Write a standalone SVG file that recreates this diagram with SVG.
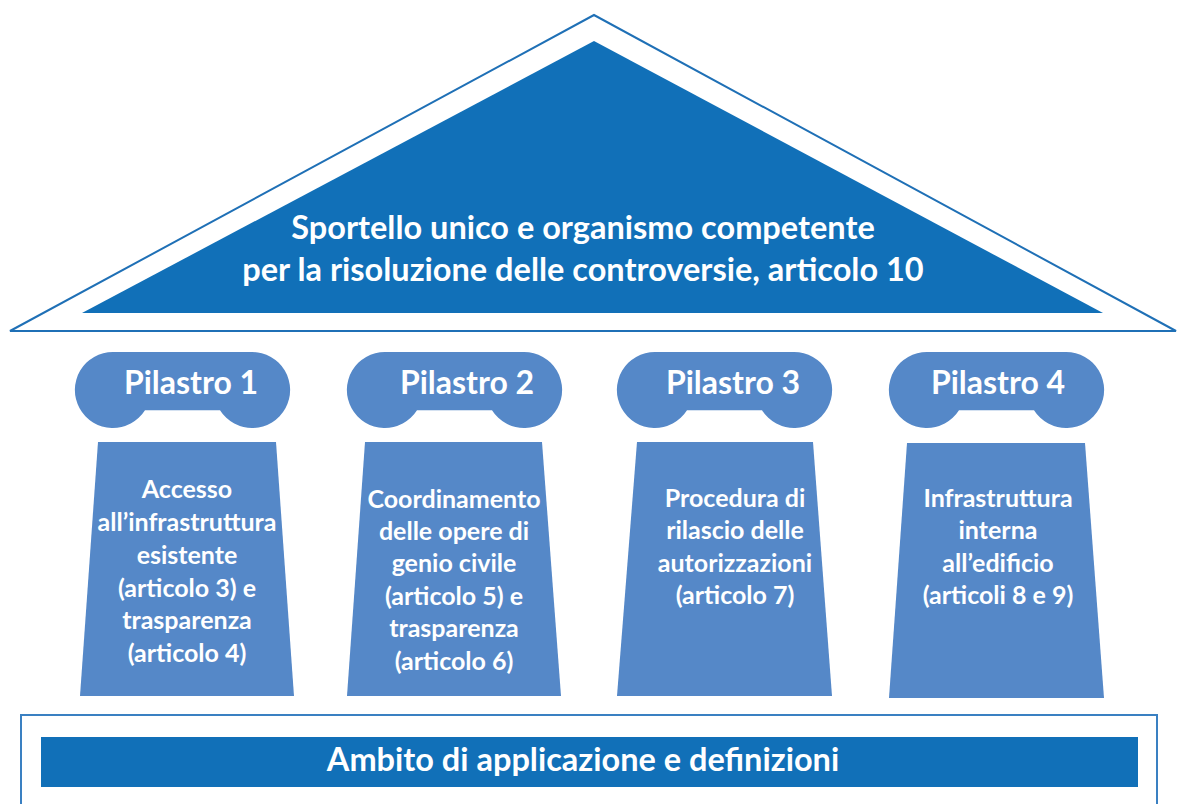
<svg xmlns="http://www.w3.org/2000/svg" width="1178" height="804" viewBox="0 0 1178 804">
<style>
.roof-out{fill:#ffffff;stroke:#1f70b6;stroke-width:2;stroke-linejoin:miter}
.dark{fill:#1170b8}
.pil{fill:#5588c8}
.base-out{fill:#ffffff;stroke:#3a80c2;stroke-width:2}
text{font-family:Lato,"Open Sans","Liberation Sans",sans-serif;font-weight:bold;fill:#ffffff;text-anchor:middle}
.big{font-size:32.5px}
.cap{font-size:32px}
.body{font-size:25px}
</style>
<defs>
<path id="capital" d="M38,0 L177,0 A38,38 0 1 1 145,58.3 L70,58.3 A38,38 0 1 1 38,0 Z"/>
</defs>
<rect width="1178" height="804" fill="#ffffff"/>
<g id="roof">
<polygon class="roof-out" points="594,15 10,331 1176,331"/>
<polygon class="dark" points="594,41 82,313 1103,313"/>
<text class="big" x="583" y="239">Sportello unico e organismo competente</text>
<text class="big" x="583" y="281">per la risoluzione delle controversie, articolo 10</text>
</g>
<g id="pilastro1">
<use href="#capital" class="pil" transform="translate(75,352)"/>
<text class="cap" x="191" y="394">Pilastro 1</text>
<polygon class="pil" points="98,442 276,442 294,696 80,696"/>
<text class="body" x="187" y="498">Accesso</text>
<text class="body" x="187" y="531">all’infrastruttura</text>
<text class="body" x="187" y="564">esistente</text>
<text class="body" x="187" y="597">(articolo 3) e</text>
<text class="body" x="187" y="629">trasparenza</text>
<text class="body" x="187" y="662">(articolo 4)</text>
</g>
<g id="pilastro2">
<use href="#capital" class="pil" transform="translate(347,352)"/>
<text class="cap" x="467" y="394">Pilastro 2</text>
<polygon class="pil" points="365,442 542,442 561,696 347,696"/>
<text class="body" x="454" y="508">Coordinamento</text>
<text class="body" x="454" y="540">delle opere di</text>
<text class="body" x="454" y="572">genio civile</text>
<text class="body" x="454" y="605">(articolo 5) e</text>
<text class="body" x="454" y="637">trasparenza</text>
<text class="body" x="454" y="670">(articolo 6)</text>
</g>
<g id="pilastro3">
<use href="#capital" class="pil" transform="translate(617,352)"/>
<text class="cap" x="733" y="394">Pilastro 3</text>
<polygon class="pil" points="637,442 813,442 832,696 617,696"/>
<text class="body" x="735" y="507">Procedura di</text>
<text class="body" x="735" y="539">rilascio delle</text>
<text class="body" x="735" y="572">autorizzazioni</text>
<text class="body" x="735" y="604">(articolo 7)</text>
</g>
<g id="pilastro4">
<use href="#capital" class="pil" transform="translate(889,352)"/>
<text class="cap" x="998" y="394">Pilastro 4</text>
<polygon class="pil" points="907,443 1085,443 1104,698 889,698"/>
<text class="body" x="998" y="507">Infrastruttura</text>
<text class="body" x="998" y="539">interna</text>
<text class="body" x="998" y="572">all’edificio</text>
<text class="body" x="998" y="604">(articoli 8 e 9)</text>
</g>
<g id="base">
<rect class="base-out" x="21" y="715" width="1136" height="100"/>
<rect class="dark" x="41" y="737" width="1097" height="50"/>
<text class="big" x="583" y="771">Ambito di applicazione e definizioni</text>
</g>
<g id="connectors"/>
</svg>
